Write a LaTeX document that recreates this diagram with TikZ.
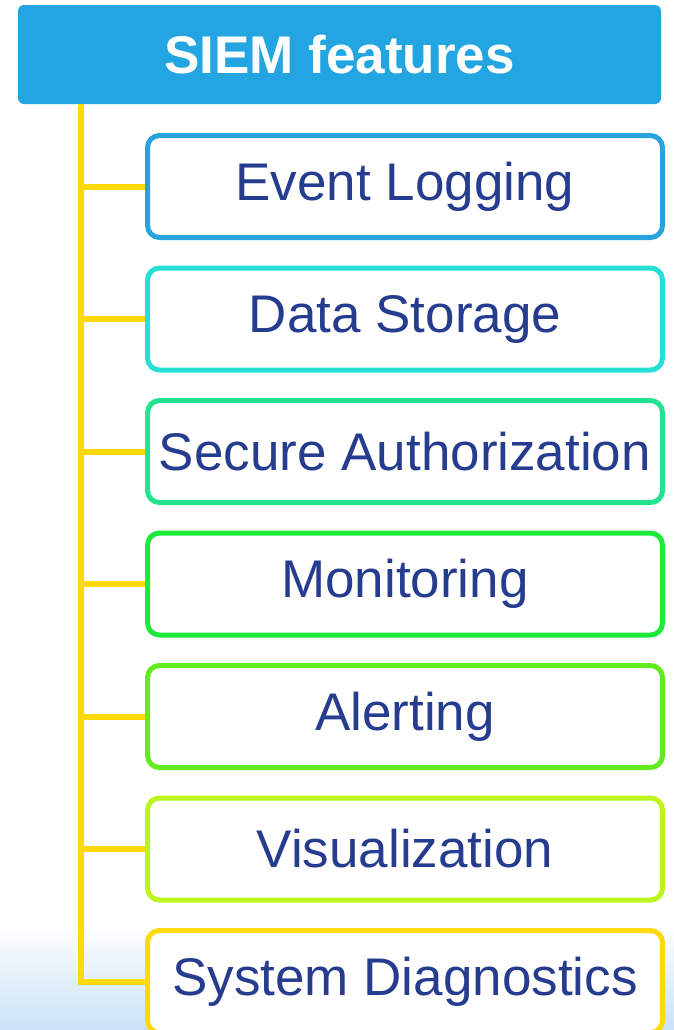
\documentclass[tikz,border=0pt]{standalone}
\usepackage{fontspec}
\setmainfont{Liberation Sans}
\usetikzlibrary{positioning}

\definecolor{titleblue}{HTML}{22A5E0}
\definecolor{textnavy}{HTML}{263C8F}
\definecolor{trunkyellow}{HTML}{FFD90A}
\definecolor{bgblue}{HTML}{C9E2F5}
\definecolor{boxblue}{HTML}{29A3DD}
\definecolor{boxcyan}{HTML}{26E0D5}
\definecolor{boxteal}{HTML}{22E38F}
\definecolor{boxgreen}{HTML}{1BEA3A}
\definecolor{boxlime}{HTML}{62EB1E}
\definecolor{boxchart}{HTML}{BBF51B}
\definecolor{boxyellow}{HTML}{FFD90A}

\begin{document}
\begin{tikzpicture}[x=0.5pt, y=0.5pt, node distance=12.75pt,
    feature/.style={draw, line width=2.5pt, rounded corners=6pt, fill=white, inner sep=2pt,
        minimum width=257.5pt, minimum height=51pt, text=textnavy,
        font=\fontsize{26.5}{30}\selectfont},
    branch/.style={draw=trunkyellow, line width=3pt}]

    \useasboundingbox (0,0) rectangle (674,-1030);
    % pale blue glow at the bottom
    \shade[top color=white, bottom color=bgblue] (0,-925) rectangle (674,-1030);

    \node(title)[fill=titleblue, rounded corners=3pt, minimum width=321.5pt, minimum height=49.5pt,
        text=white, font=\bfseries\fontsize{26.5}{30}\selectfont] at (339.5,-54.5) {SIEM features};

    \node(logging)[feature, draw=boxblue] at (405,-186.5) {Event Logging};
    \node(storage)[feature, draw=boxcyan, below=of logging] {Data Storage};
    \node(authorization)[feature, draw=boxteal, below=of storage] {Secure Authorization};
    \node(monitoring)[feature, draw=boxgreen, below=of authorization] {Monitoring};
    \node(alerting)[feature, draw=boxlime, below=of monitoring] {Alerting};
    \node(visualization)[feature, draw=boxchart, below=of alerting] {Visualization};
    \node(diagnostics)[feature, draw=boxyellow, below=of visualization] {System Diagnostics};

    \coordinate(root) at ([xshift=31.5pt]title.south west);
    \draw[branch] (root) |- (diagnostics.west);
    \foreach \n in {logging,storage,authorization,monitoring,alerting,visualization}
        \draw[branch] (root |- \n.west) -- (\n.west);

\end{tikzpicture}
\end{document}
